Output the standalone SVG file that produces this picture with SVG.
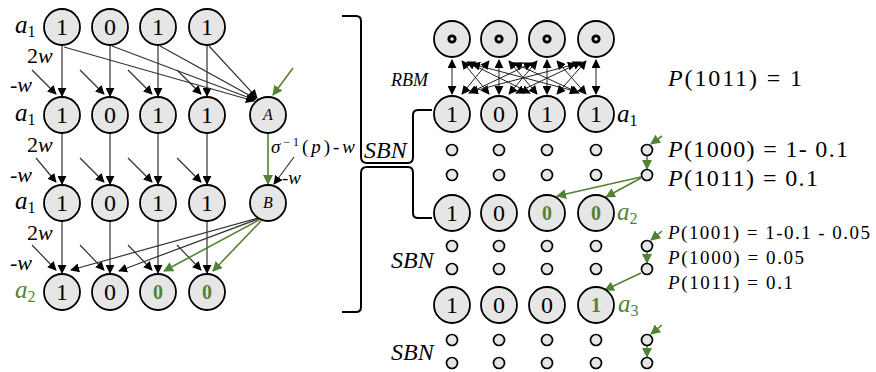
<svg xmlns="http://www.w3.org/2000/svg" width="876" height="372" viewBox="0 0 876 372">
<defs>
<marker id="ah" viewBox="0 0 10 10" refX="9" refY="5" markerWidth="9" markerHeight="9" markerUnits="userSpaceOnUse" orient="auto-start-reverse"><path d="M0,0 L10,5 L0,10 z" fill="#000"/></marker>
<marker id="gh" viewBox="0 0 10 10" refX="9" refY="5" markerWidth="10" markerHeight="10" markerUnits="userSpaceOnUse" orient="auto-start-reverse"><path d="M0,0 L10,5 L0,10 z" fill="#548235"/></marker>
</defs>
<style>
.n{fill:#e6e6e6;stroke:#000;stroke-width:1.8}
.s{fill:#e6e6e6;stroke:#000;stroke-width:1.7}
.d{font-family:"Liberation Serif",serif;font-size:24px;text-anchor:middle}
.t{font-family:"Liberation Serif",serif;font-size:21px}
.it{font-style:italic}
.g{fill:#548235}
.b{font-weight:bold}
.a{stroke:#333;stroke-width:1.2;fill:none;marker-end:url(#ah)}
.a2{stroke:#222;stroke-width:1;fill:none;marker-start:url(#ah);marker-end:url(#ah)}
.ga{stroke:#548235;stroke-width:1.6;fill:none;marker-end:url(#gh)}
.br{stroke:#000;stroke-width:2;fill:none}
</style>
<rect width="876" height="372" fill="#fff"/>

<g id="connectors">
<!-- left vertical 2w arrows -->
<line class="a" x1="62" y1="45" x2="62" y2="96"/><line class="a" x1="110" y1="45" x2="110" y2="96"/><line class="a" x1="158" y1="45" x2="158" y2="96"/><line class="a" x1="207" y1="45" x2="207" y2="96"/>
<line class="a" x1="62" y1="133" x2="62" y2="184"/><line class="a" x1="110" y1="133" x2="110" y2="184"/><line class="a" x1="158" y1="133" x2="158" y2="184"/><line class="a" x1="207" y1="133" x2="207" y2="184"/>
<line class="a" x1="62" y1="221" x2="62" y2="273"/><line class="a" x1="110" y1="221" x2="110" y2="273"/><line class="a" x1="158" y1="221" x2="158" y2="273"/><line class="a" x1="207" y1="221" x2="207" y2="273"/>
<!-- -w diagonal arrows -->
<line class="a" x1="32" y1="70" x2="56" y2="94"/><line class="a" x1="80" y1="70" x2="104" y2="94"/><line class="a" x1="128" y1="70" x2="152" y2="94"/><line class="a" x1="177" y1="70" x2="201" y2="94"/>
<line class="a" x1="36" y1="158" x2="56" y2="182"/><line class="a" x1="80" y1="158" x2="104" y2="182"/><line class="a" x1="128" y1="158" x2="152" y2="182"/><line class="a" x1="177" y1="158" x2="201" y2="182"/>
<line class="a" x1="32" y1="245" x2="56" y2="270"/><line class="a" x1="80" y1="245" x2="104" y2="270"/><line class="a" x1="128" y1="245" x2="152" y2="270"/><line class="a" x1="177" y1="245" x2="201" y2="270"/>
<!-- row1 to A -->
<line class="a" x1="64" y1="47" x2="254" y2="101"/><line class="a" x1="112" y1="46" x2="255" y2="100"/><line class="a" x1="160" y1="46" x2="256" y2="99"/><line class="a" x1="209" y1="46" x2="257" y2="98"/>
<line class="ga" x1="293" y1="68" x2="273" y2="95"/>
<!-- A to B -->
<line class="ga" x1="268" y1="133" x2="268" y2="184"/>
<line class="a" x1="294" y1="157" x2="274" y2="184"/>
<!-- B to row4 -->
<line class="a" x1="258" y1="218" x2="71" y2="270"/><line class="a" x1="258" y1="219" x2="119" y2="271"/>
<line class="ga" x1="259" y1="220" x2="164" y2="271"/><line class="ga" x1="261" y1="221" x2="213" y2="271"/>

<!-- big bracket -->
<path class="br" d="M342,16 H356 Q361,16 361,21 V157 Q361,163 367,163 H408 Q413,163 413,157 V115 Q413,110 418,110 H432"/>
<path class="br" d="M342,312 H356 Q361,312 361,307 V173 Q361,167 367,167 H408 Q413,167 413,173 V213 Q413,218 418,218 H432"/>

<!-- RBM arrows -->
<line class="a2" x1="452" y1="60" x2="452" y2="94"/><line class="a2" x1="499" y1="60" x2="499" y2="94"/><line class="a2" x1="547" y1="60" x2="547" y2="94"/><line class="a2" x1="596" y1="60" x2="596" y2="94"/>
<line class="a2" x1="462" y1="61" x2="489" y2="94"/><line class="a2" x1="467" y1="62" x2="530" y2="93"/><line class="a2" x1="472" y1="64" x2="578" y2="92"/>
<line class="a2" x1="489" y1="61" x2="462" y2="94"/><line class="a2" x1="509" y1="61" x2="537" y2="94"/><line class="a2" x1="514" y1="63" x2="579" y2="93"/>
<line class="a2" x1="537" y1="61" x2="509" y2="94"/><line class="a2" x1="532" y1="63" x2="469" y2="93"/><line class="a2" x1="557" y1="61" x2="586" y2="94"/>
<line class="a2" x1="586" y1="61" x2="557" y2="94"/><line class="a2" x1="581" y1="62" x2="516" y2="93"/><line class="a2" x1="576" y1="64" x2="470" y2="92"/>

<!-- SBN green arrows -->
<line class="ga" x1="662" y1="136" x2="651" y2="144"/>
<line class="ga" x1="647" y1="156" x2="647" y2="169"/>
<line class="ga" x1="641" y1="177" x2="557" y2="196"/><line class="ga" x1="641" y1="178" x2="606" y2="197"/>
<line class="ga" x1="662" y1="231" x2="651" y2="240"/>
<line class="ga" x1="647" y1="252" x2="647" y2="263"/>
<line class="ga" x1="641" y1="273" x2="605" y2="290"/>
<line class="ga" x1="662" y1="325" x2="651" y2="334"/>
<line class="ga" x1="647" y1="346" x2="647" y2="357"/>
</g>

<!-- left nodes -->
<g id="L1c1"><circle class="n" cx="62" cy="27" r="18"/><text class="d" x="62" y="35">1</text></g>
<g id="L1c2"><circle class="n" cx="110" cy="27" r="18"/><text class="d" x="110" y="35">0</text></g>
<g id="L1c3"><circle class="n" cx="158" cy="27" r="18"/><text class="d" x="158" y="35">1</text></g>
<g id="L1c4"><circle class="n" cx="207" cy="27" r="18"/><text class="d" x="207" y="35">1</text></g>
<g id="L2c1"><circle class="n" cx="62" cy="115" r="18"/><text class="d" x="62" y="123">1</text></g>
<g id="L2c2"><circle class="n" cx="110" cy="115" r="18"/><text class="d" x="110" y="123">0</text></g>
<g id="L2c3"><circle class="n" cx="158" cy="115" r="18"/><text class="d" x="158" y="123">1</text></g>
<g id="L2c4"><circle class="n" cx="207" cy="115" r="18"/><text class="d" x="207" y="123">1</text></g>
<g id="nodeA"><circle class="n" cx="268" cy="115" r="18"/><text class="d it" x="268" y="120" style="font-size:16px">A</text></g>
<g id="L3c1"><circle class="n" cx="62" cy="203" r="18"/><text class="d" x="62" y="211">1</text></g>
<g id="L3c2"><circle class="n" cx="110" cy="203" r="18"/><text class="d" x="110" y="211">0</text></g>
<g id="L3c3"><circle class="n" cx="158" cy="203" r="18"/><text class="d" x="158" y="211">1</text></g>
<g id="L3c4"><circle class="n" cx="207" cy="203" r="18"/><text class="d" x="207" y="211">1</text></g>
<g id="nodeB"><circle class="n" cx="268" cy="203" r="18"/><text class="d it" x="268" y="208" style="font-size:16px">B</text></g>
<g id="L4c1"><circle class="n" cx="62" cy="292" r="18"/><text class="d" x="62" y="300">1</text></g>
<g id="L4c2"><circle class="n" cx="110" cy="292" r="18"/><text class="d" x="110" y="300">0</text></g>
<g id="L4c3"><circle class="n" cx="158" cy="292" r="18"/><text class="d g b" x="158" y="299" style="font-size:20px">0</text></g>
<g id="L4c4"><circle class="n" cx="207" cy="292" r="18"/><text class="d g b" x="207" y="299" style="font-size:20px">0</text></g>

<!-- left labels -->
<g id="leftlabels" class="t">
<text x="15" y="33"><tspan class="it" font-size="25">a</tspan><tspan font-size="16" dy="4">1</tspan></text>
<text x="27" y="63" font-size="22">2<tspan class="it">w</tspan></text>
<text x="10" y="92" font-size="22">-<tspan class="it">w</tspan></text>
<text x="15" y="121"><tspan class="it" font-size="25">a</tspan><tspan font-size="16" dy="4">1</tspan></text>
<text x="27" y="152" font-size="22">2<tspan class="it">w</tspan></text>
<text x="10" y="182" font-size="22">-<tspan class="it">w</tspan></text>
<text x="15" y="209"><tspan class="it" font-size="25">a</tspan><tspan font-size="16" dy="4">1</tspan></text>
<text x="27" y="240" font-size="22">2<tspan class="it">w</tspan></text>
<text x="10" y="270" font-size="22">-<tspan class="it">w</tspan></text>
<text x="15" y="298" class="g"><tspan class="it" font-size="25">a</tspan><tspan font-size="16" dy="4">2</tspan></text>
<text x="271" y="153" font-size="19" textLength="84"><tspan class="it">σ</tspan><tspan font-size="12" dy="-7">−1</tspan><tspan dy="7">(</tspan><tspan class="it">p</tspan>)-<tspan class="it">w</tspan></text>
<text x="282" y="184" font-size="19">-<tspan class="it">w</tspan></text>
</g>

<!-- right nodes -->
<g id="R0c1"><circle class="n" cx="452" cy="39" r="18"/><circle cx="452" cy="39" r="3.2" fill="#e6e6e6" stroke="#000" stroke-width="2.8"/></g>
<g id="R0c2"><circle class="n" cx="499" cy="39" r="18"/><circle cx="499" cy="39" r="3.2" fill="#e6e6e6" stroke="#000" stroke-width="2.8"/></g>
<g id="R0c3"><circle class="n" cx="547" cy="39" r="18"/><circle cx="547" cy="39" r="3.2" fill="#e6e6e6" stroke="#000" stroke-width="2.8"/></g>
<g id="R0c4"><circle class="n" cx="596" cy="39" r="18"/><circle cx="596" cy="39" r="3.2" fill="#e6e6e6" stroke="#000" stroke-width="2.8"/></g>
<g id="R1c1"><circle class="n" cx="452" cy="114" r="18"/><text class="d" x="452" y="122">1</text></g>
<g id="R1c2"><circle class="n" cx="499" cy="114" r="18"/><text class="d" x="499" y="122">0</text></g>
<g id="R1c3"><circle class="n" cx="547" cy="114" r="18"/><text class="d" x="547" y="122">1</text></g>
<g id="R1c4"><circle class="n" cx="596" cy="114" r="18"/><text class="d" x="596" y="122">1</text></g>
<g id="R2c1"><circle class="n" cx="452" cy="213" r="18"/><text class="d" x="452" y="221">1</text></g>
<g id="R2c2"><circle class="n" cx="499" cy="213" r="18"/><text class="d" x="499" y="221">0</text></g>
<g id="R2c3"><circle class="n" cx="547" cy="213" r="18"/><text class="d g b" x="547" y="220" style="font-size:20px">0</text></g>
<g id="R2c4"><circle class="n" cx="596" cy="213" r="18"/><text class="d g b" x="596" y="220" style="font-size:20px">0</text></g>
<g id="R3c1"><circle class="n" cx="452" cy="305" r="18"/><text class="d" x="452" y="313">1</text></g>
<g id="R3c2"><circle class="n" cx="499" cy="305" r="18"/><text class="d" x="499" y="313">0</text></g>
<g id="R3c3"><circle class="n" cx="547" cy="305" r="18"/><text class="d" x="547" y="313">0</text></g>
<g id="R3c4"><circle class="n" cx="596" cy="305" r="18"/><text class="d g b" x="596" y="312" style="font-size:20px">1</text></g>

<!-- SBN small nodes -->
<g id="sbn1">
<circle class="s" cx="452" cy="150" r="5.5"/><circle class="s" cx="499" cy="150" r="5.5"/><circle class="s" cx="547" cy="150" r="5.5"/><circle class="s" cx="596" cy="150" r="5.5"/><circle class="s" cx="647" cy="150" r="5.5"/>
<circle class="s" cx="452" cy="175" r="5.5"/><circle class="s" cx="499" cy="175" r="5.5"/><circle class="s" cx="547" cy="175" r="5.5"/><circle class="s" cx="596" cy="175" r="5.5"/><circle class="s" cx="647" cy="175" r="5.5"/>
</g>
<g id="sbn2">
<circle class="s" cx="452" cy="246" r="5.5"/><circle class="s" cx="499" cy="246" r="5.5"/><circle class="s" cx="547" cy="246" r="5.5"/><circle class="s" cx="596" cy="246" r="5.5"/><circle class="s" cx="647" cy="246" r="5.5"/>
<circle class="s" cx="452" cy="269" r="5.5"/><circle class="s" cx="499" cy="269" r="5.5"/><circle class="s" cx="547" cy="269" r="5.5"/><circle class="s" cx="596" cy="269" r="5.5"/><circle class="s" cx="647" cy="269" r="5.5"/>
</g>
<g id="sbn3">
<circle class="s" cx="452" cy="340" r="5.5"/><circle class="s" cx="499" cy="340" r="5.5"/><circle class="s" cx="547" cy="340" r="5.5"/><circle class="s" cx="596" cy="340" r="5.5"/><circle class="s" cx="647" cy="340" r="5.5"/>
<circle class="s" cx="452" cy="363" r="5.5"/><circle class="s" cx="499" cy="363" r="5.5"/><circle class="s" cx="547" cy="363" r="5.5"/><circle class="s" cx="596" cy="363" r="5.5"/><circle class="s" cx="647" cy="363" r="5.5"/>
</g>

<!-- right labels -->
<g id="rightlabels" class="t">
<text x="391" y="86" class="it" font-size="18">RBM</text>
<text x="364" y="158" class="it" font-size="24">SBN</text>
<text x="391" y="268" class="it" font-size="24">SBN</text>
<text x="391" y="360" class="it" font-size="24">SBN</text>
<text x="617" y="122"><tspan class="it" font-size="25">a</tspan><tspan font-size="16" dy="4">1</tspan></text>
<text x="617" y="220" class="g"><tspan class="it" font-size="25">a</tspan><tspan font-size="16" dy="4">2</tspan></text>
<text x="618" y="312" class="g"><tspan class="it" font-size="25">a</tspan><tspan font-size="16" dy="4">3</tspan></text>
<text x="668" y="86" font-size="24" textLength="134"><tspan class="it">P</tspan>(1011) = 1</text>
<text x="668" y="157" font-size="24" textLength="180"><tspan class="it">P</tspan>(1000) = 1- 0.1</text>
<text x="668" y="186" font-size="24" textLength="150"><tspan class="it">P</tspan>(1011) = 0.1</text>
<text x="668" y="239" font-size="19" textLength="202"><tspan class="it">P</tspan>(1001) = 1-0.1 - 0.05</text>
<text x="668" y="264" font-size="19" textLength="136"><tspan class="it">P</tspan>(1000) = 0.05</text>
<text x="668" y="289" font-size="19" textLength="125"><tspan class="it">P</tspan>(1011) = 0.1</text>
</g>
</svg>
